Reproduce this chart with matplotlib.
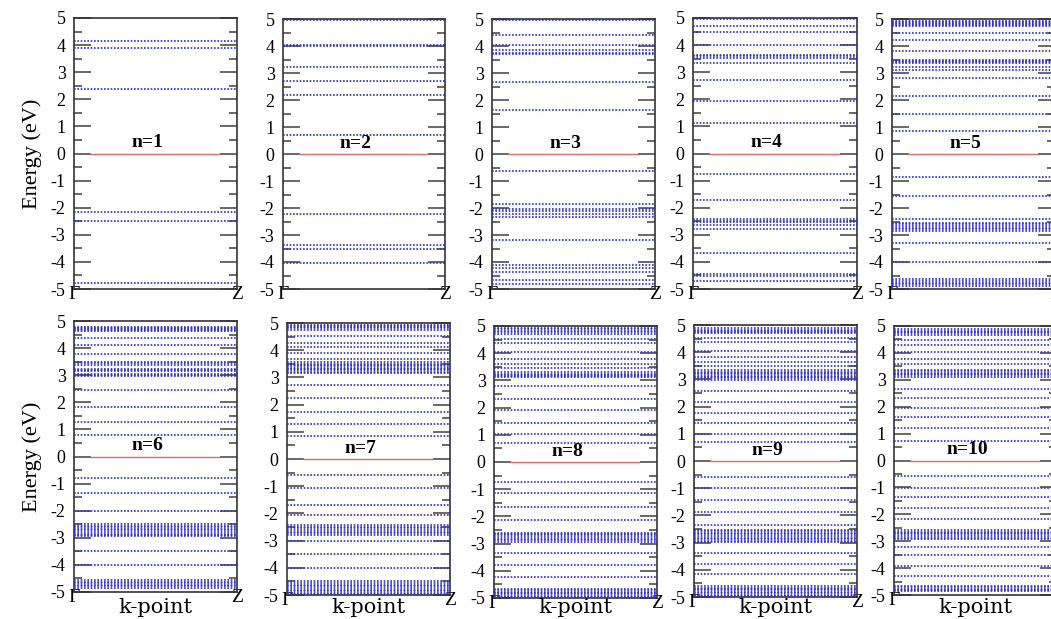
import matplotlib
matplotlib.use('Agg')
import matplotlib.pyplot as plt

plt.rcParams['font.family'] = ['Liberation Serif', 'DejaVu Serif']
plt.rcParams['axes.unicode_minus'] = False

# band energies (eV) at each n
bands_n1 = [4.15, 3.88, 2.38, -2.15, -2.5, -4.79]
bands_n2 = [4.98, 4.03, 4.0, 3.21, 2.72, 2.17, 0.69, -2.21, -3.36, -3.52, -4.04]
bands_n3 = [4.98, 4.39, 4.02, 3.87, 3.75, 3.69, 2.67, 1.62, -0.64, -1.87, -2.03,
            -2.11, -2.21, -2.33, -3.17, -4.12, -4.21, -4.36, -4.67, -4.83]
bands_n4 = [4.98, 4.72, 4.49, 4.02, 3.65, 3.59, 3.53, 3.35, 2.73, 1.94, 1.12,
            -0.76, -1.70, -2.41, -2.48, -2.54, -2.63, -2.78, -3.68, -4.44,
            -4.52, -4.72]
bands_n5 = [4.94, 4.90, 4.86, 4.82, 4.78, 4.74, 4.47, 4.22, 3.83, 3.49, 3.45,
            3.41, 3.37, 3.24, 3.12, 2.81, 2.13, 1.48, 0.86, -0.86, -1.56,
            -2.40, -2.55, -2.61, -2.67, -2.73, -2.79, -2.86, -3.29, -3.99,
            -4.64, -4.70, -4.76, -4.82, -4.89]
bands_n6 = [4.79, 4.75, 4.71, 4.67, 4.63, 4.39, 4.12, 3.78, 3.49, 3.44, 3.39,
            3.24, 3.20, 3.15, 3.05, 3.00, 2.96, 2.44, 1.84, 1.29, 0.79, -0.78,
            -1.34, -2.00, -2.49, -2.55, -2.61, -2.67, -2.73, -2.79, -2.85,
            -2.90, -2.95, -3.48, -4.01, -4.56, -4.62, -4.68, -4.74, -4.79, -4.84]
bands_n7 = [4.94, 4.90, 4.85, 4.80, 4.75, 4.51, 4.26, 4.10, 3.90, 3.69, 3.56,
            3.51, 3.46, 3.41, 3.36, 3.31, 3.26, 3.21, 3.15, 2.73, 2.24, 1.74,
            1.29, 0.85, -0.59, -1.06, -1.70, -2.06, -2.43, -2.49, -2.55, -2.61,
            -2.67, -2.73, -2.80, -3.02, -3.51, -4.00, -4.50, -4.56, -4.62,
            -4.68, -4.74, -4.80, -4.86, -4.92, -4.97]
bands_n8 = [4.93, 4.88, 4.83, 4.78, 4.72, 4.53, 4.38, 4.04, 3.79, 3.60, 3.44,
            3.30, 3.25, 3.20, 3.15, 3.11, 2.80, 2.33, 1.91, 1.44, 1.04, 0.70,
            -0.72, -1.15, -1.64, -2.14, -2.60, -2.65, -2.70, -2.76, -2.82,
            -2.88, -2.94, -3.33, -3.78, -4.23, -4.67, -4.72, -4.77, -4.82,
            -4.87, -4.92, -4.98]
bands_n9 = [4.88, 4.83, 4.78, 4.73, 4.69, 4.53, 4.36, 4.04, 3.83, 3.65, 3.49,
            3.34, 3.29, 3.24, 3.19, 3.14, 3.09, 3.04, 2.97, 2.57, 2.18, 1.78,
            1.41, 1.01, 0.70, -0.59, -1.00, -1.43, -1.88, -2.37, -2.52, -2.58,
            -2.64, -2.70, -2.76, -2.82, -2.88, -2.94, -2.99, -3.38, -3.78,
            -4.15, -4.61, -4.66, -4.71, -4.76, -4.81, -4.86, -4.91, -4.95]
bands_n10 = [4.88, 4.83, 4.78, 4.73, 4.68, 4.47, 4.28, 4.04, 3.79, 3.57, 3.36,
             3.31, 3.26, 3.21, 3.16, 3.12, 2.66, 2.32, 1.95, 1.60, 1.21, 0.71,
             -0.58, -1.01, -1.35, -1.77, -2.18, -2.59, -2.64, -2.69, -2.75,
             -2.81, -2.87, -2.92, -3.20, -3.53, -3.94, -4.28, -4.68, -4.72,
             -4.76, -4.81, -4.85]

all_bands = [bands_n1, bands_n2, bands_n3, bands_n4, bands_n5,
             bands_n6, bands_n7, bands_n8, bands_n9, bands_n10]
panel_labels = ['n=1', 'n=2', 'n=3', 'n=4', 'n=5',
                'n=6', 'n=7', 'n=8', 'n=9', 'n=10']
kpoint_labels = ['\u0393', 'Z']
yticks = [-5, -4, -3, -2, -1, 0, 1, 2, 3, 4, 5]

# axes boxes in pixels (left, top, right, bottom) of the 1051x619 picture
W, H = 1051, 619
boxes = [(74, 18, 237, 289), (283, 19, 445, 289), (492, 19, 655, 289),
         (693, 18, 857, 289), (892, 19, 1055, 289),
         (74, 321, 237, 592), (287, 323, 450, 595), (494, 326, 657, 598),
         (694, 325, 857, 597), (894, 326, 1057, 595)]

fig = plt.figure(figsize=(W / 100, H / 100), dpi=100)

for i, (bands, lab, (x0, y0, x1, y1)) in enumerate(zip(all_bands, panel_labels, boxes)):
    ax = fig.add_axes([x0 / W, 1 - y1 / H, (x1 - x0) / W, (y1 - y0) / H])
    ax.hlines(bands, 0, 1, colors='#3030c0', linewidth=1.2,
              linestyles=(0, (1, 1)), zorder=3)
    ax.plot([0.1, 0.89], [0, 0], color='#e06a6a', lw=1.0, zorder=2)
    ax.text(0.45, 0.4, lab, ha='center', va='center', fontsize=14,
            fontweight='bold', zorder=4)
    ax.set_xlim(0, 1)
    ax.set_ylim(-5, 5)
    ax.set_yticks(yticks)
    ax.set_yticks([-4.5, -3.5, -2.5, -1.5, -0.5, 0.5, 1.5, 2.5, 3.5, 4.5], minor=True)
    ax.tick_params(axis='y', which='major', direction='in', left=True, right=True,
                   length=12, width=1.1, color='#404040', labelsize=13, pad=6)
    ax.tick_params(axis='y', which='minor', direction='in', left=True, right=True,
                   length=6, width=1.1, color='#404040')
    ax.set_xticks([0, 1])
    ax.set_xticklabels(kpoint_labels, fontsize=14)
    ax.tick_params(axis='x', length=0, pad=-2)
    for sp in ax.spines.values():
        sp.set_linewidth(1.2)
        sp.set_color('#333333')
    if i in (0, 5):
        ax.set_ylabel('Energy (eV)', fontsize=16, labelpad=6)
    if i >= 5:
        # k-point labels sit on one common baseline near the bottom edge
        fig.text((x0 + x1) / 2 / W, 1 - 613 / H, 'k-point', ha='center',
                 va='baseline', fontsize=15, family='DejaVu Serif')

plt.savefig('out.png', dpi=100)
